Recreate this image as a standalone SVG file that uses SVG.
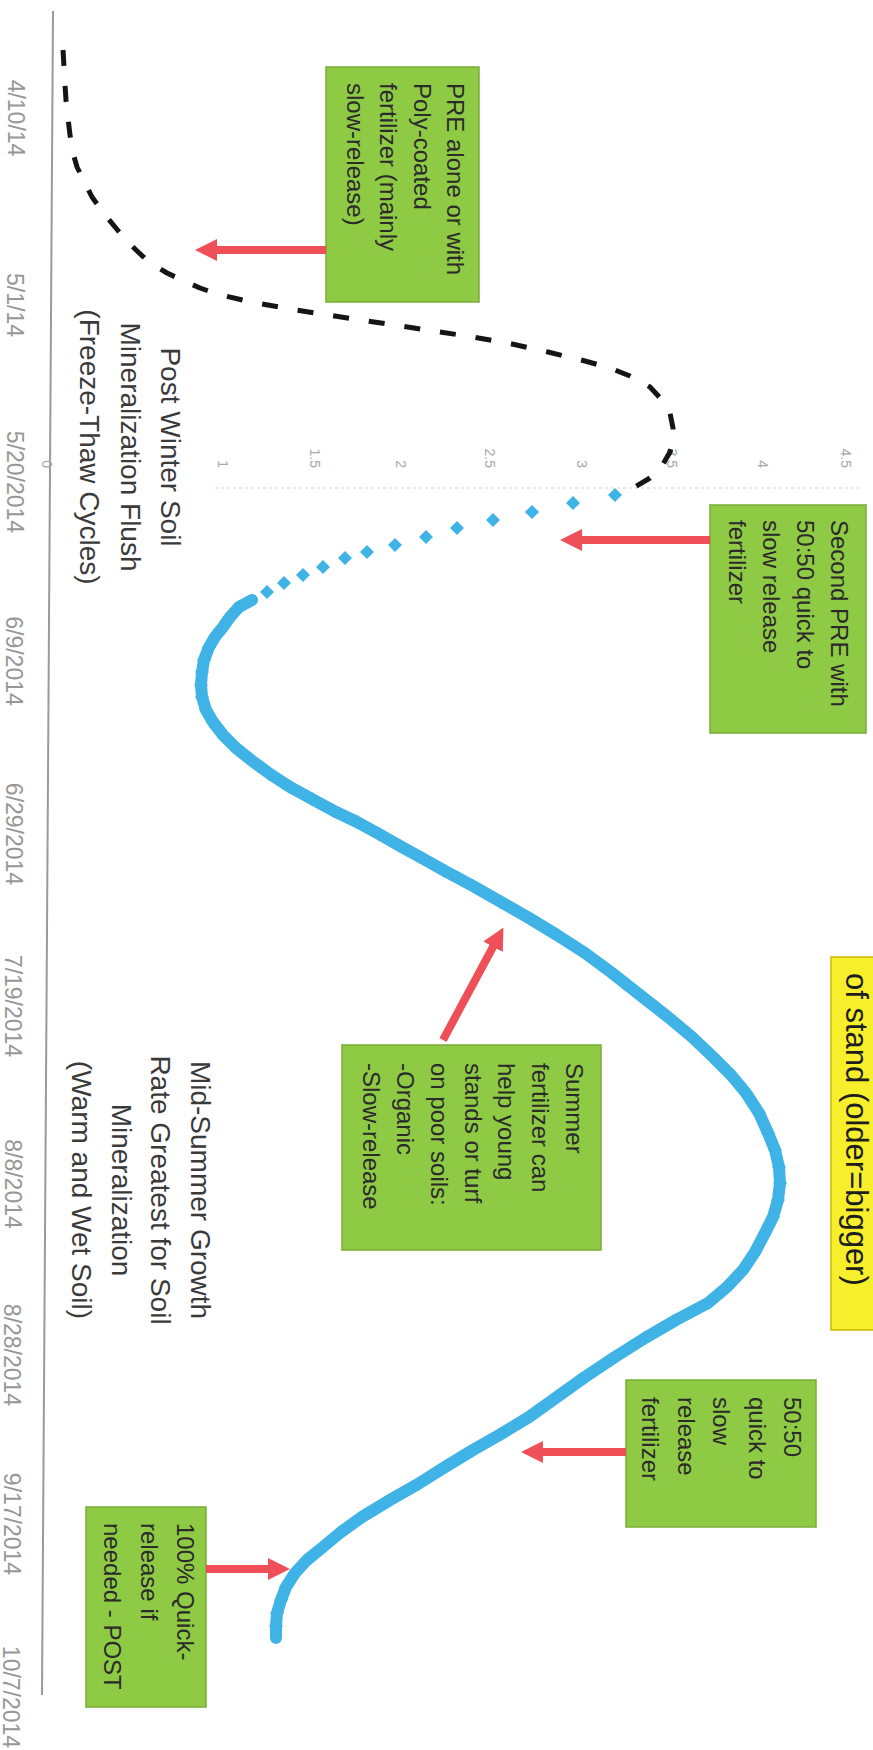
<svg xmlns="http://www.w3.org/2000/svg" width="873" height="1750" viewBox="0 0 873 1750">
<defs>
<style>
.axis{stroke:#9a9a9a;stroke-width:2;fill:none}
.grid{stroke:#e2e2e2;stroke-width:1.5;fill:none;stroke-dasharray:3 3}
.date{font-family:"Liberation Sans",Arial,sans-serif;font-size:23px;fill:#979797;text-anchor:middle}
.val{font-family:"Liberation Sans",Arial,sans-serif;font-size:14px;fill:#a8a8a8;text-anchor:end}
.box{fill:#8fca45;stroke:#78ad35;stroke-width:1.5}
.ybox{fill:#f8ef2c;stroke:#c9b900;stroke-width:1.5}
.bt{font-family:"Liberation Sans",Arial,sans-serif;font-size:24px;fill:#2b2b2b}
.yt{font-family:"Liberation Sans",Arial,sans-serif;font-size:31px;fill:#1e1e1e}
.lbl{font-family:"Liberation Sans",Arial,sans-serif;font-size:28px;fill:#3a3a3a;text-anchor:middle}
.arrow{stroke:#ef5058;stroke-width:8;fill:none;marker-end:url(#ah)}
.dash{stroke:#151515;stroke-width:5;fill:none;stroke-dasharray:16 20;stroke-linejoin:round}
.blue{stroke:#3fb3e6;stroke-width:12;fill:none;stroke-linejoin:round;stroke-linecap:round;marker-mid:url(#dmk)}
.dm{fill:#3fb3e6}
</style>
<marker id="ah" markerUnits="userSpaceOnUse" markerWidth="22" markerHeight="22" viewBox="0 0 22 22" refX="2" refY="11" orient="auto"><path d="M0,0 L22,11 L0,22 Z" fill="#ef5058"/></marker>
<marker id="dmk" markerUnits="userSpaceOnUse" markerWidth="14" markerHeight="14" viewBox="-7 -7 14 14" refX="0" refY="0" orient="0"><path d="M0,-7 L7,0 L0,7 L-7,0 Z" fill="#3fb3e6"/></marker>
<path id="dm" d="M0,-7 L7,0 L0,7 L-7,0 Z"/>
</defs>
<rect width="873" height="1750" fill="#ffffff"/>

<g id="date-axis">
<line class="axis" x1="53" y1="11" x2="42" y2="1695"/>
<text class="date" transform="translate(8,118) rotate(90)">4/10/14</text>
<text class="date" transform="translate(7.4,305) rotate(90)">5/1/14</text>
<text class="date" transform="translate(6.9,482) rotate(90)">5/20/2014</text>
<text class="date" transform="translate(6.3,661) rotate(90)">6/9/2014</text>
<text class="date" transform="translate(5.8,834) rotate(90)">6/29/2014</text>
<text class="date" transform="translate(5.2,1006) rotate(90)">7/19/2014</text>
<text class="date" transform="translate(4.7,1184) rotate(90)">8/8/2014</text>
<text class="date" transform="translate(4.1,1355) rotate(90)">8/28/2014</text>
<text class="date" transform="translate(3.6,1524) rotate(90)">9/17/2014</text>
<text class="date" transform="translate(3,1697) rotate(90)">10/7/2014</text>
</g>

<g id="value-axis">
<line class="grid" x1="215" y1="488" x2="860" y2="488"/>
<text class="val" transform="translate(42,468) rotate(90)">0</text>
<text class="val" transform="translate(218,468) rotate(90)">1</text>
<text class="val" transform="translate(310,468) rotate(90)">1.5</text>
<text class="val" transform="translate(396,468) rotate(90)">2</text>
<text class="val" transform="translate(485,468) rotate(90)">2.5</text>
<text class="val" transform="translate(577,468) rotate(90)">3</text>
<text class="val" transform="translate(667,468) rotate(90)">3.5</text>
<text class="val" transform="translate(758,468) rotate(90)">4</text>
<text class="val" transform="translate(841,468) rotate(90)">4.5</text>
</g>

<g id="series-dashed">
<polyline class="dash" points="63,50 64,67 65,85 66,100 68,118 70,135 73,153 77,167 85,183 92,197 105,215 120,233 135,249 150,263 167,273 184,281 200,288 217,294 251,302 290,309 328,315 367,321 401,326 440,332 473,337 512,344 548,352 585,361 610,368 630,376 650,387 662,400 670,413 673,428 673,440 670,452 662,466 650,478 635,487 618,493"/>
</g>

<g id="series-blue">
<use class="dm" href="#dm" x="615" y="495"/>
<use class="dm" href="#dm" x="573" y="503"/>
<use class="dm" href="#dm" x="532" y="512"/>
<use class="dm" href="#dm" x="493" y="520"/>
<use class="dm" href="#dm" x="457" y="528"/>
<use class="dm" href="#dm" x="426" y="537"/>
<use class="dm" href="#dm" x="395" y="545"/>
<use class="dm" href="#dm" x="367" y="552"/>
<use class="dm" href="#dm" x="345" y="558"/>
<use class="dm" href="#dm" x="323" y="567"/>
<use class="dm" href="#dm" x="303" y="575"/>
<use class="dm" href="#dm" x="284" y="583"/>
<use class="dm" href="#dm" x="267" y="592"/>
<polyline class="blue" points="252,600 239,607 230,617 223,627 215,637 209,647 204,660 202,672 201,685 202,697 206,710 213,722 223,735 236,748 251,760 270,774 290,787 312,799 334,811 357,822 379,834 400,846 420,857 445,871 473,886 501,902 529,918 557,935 585,953 612,973 640,995 668,1017 692,1037 713,1057 731,1075 746,1093 759,1113 768,1133 775,1150 779,1167 780,1183 778,1200 773,1217 765,1233 755,1252 743,1270 727,1287 708,1303 676,1320 645,1338 615,1357 585,1377 557,1397 529,1417 501,1434 473,1450 445,1467 418,1484 390,1500 362,1517 341,1532 323,1547 307,1560 295,1573 286,1587 281,1600 277,1613 276,1626 276,1638"/>
</g>

<g id="label-post-winter">
<text class="lbl" transform="translate(161,447) rotate(90)"><tspan x="0" y="0">Post Winter Soil</tspan><tspan x="0" dy="40.5">Mineralization Flush</tspan><tspan x="0" dy="40.5">(Freeze-Thaw Cycles)</tspan></text>
</g>

<g id="label-mid-summer">
<text class="lbl" transform="translate(191,1190) rotate(90)"><tspan x="0" y="0">Mid-Summer Growth</tspan><tspan x="0" dy="39.7">Rate Greatest for Soil</tspan><tspan x="0" dy="39.7">Mineralization</tspan><tspan x="0" dy="39.7">(Warm and Wet Soil)</tspan></text>
</g>

<g id="note-stand-age">
<rect class="ybox" x="831" y="957" width="60" height="373"/>
<text class="yt" transform="translate(846,973) rotate(90)">of stand (older=bigger)</text>
</g>

<g id="box-pre">
<rect class="box" x="326" y="67" width="153" height="235"/>
<text class="bt" transform="translate(447,83) rotate(90)"><tspan x="0" y="0">PRE alone or with</tspan><tspan x="0" dy="33.3">Poly-coated</tspan><tspan x="0" dy="33.3">fertilizer (mainly</tspan><tspan x="0" dy="33.3">slow-release)</tspan></text>
</g>

<g id="box-second-pre">
<rect class="box" x="710" y="505" width="156" height="228"/>
<text class="bt" transform="translate(831,520) rotate(90)"><tspan x="0" y="0">Second PRE with</tspan><tspan x="0" dy="34">50:50 quick to</tspan><tspan x="0" dy="34">slow release</tspan><tspan x="0" dy="34">fertilizer</tspan></text>
</g>

<g id="box-summer">
<rect class="box" x="342" y="1045" width="259" height="205"/>
<text class="bt" transform="translate(566,1063) rotate(90)"><tspan x="0" y="0">Summer</tspan><tspan x="0" dy="33.8">fertilizer can</tspan><tspan x="0" dy="33.8">help young</tspan><tspan x="0" dy="33.8">stands or turf</tspan><tspan x="0" dy="33.8">on poor soils:</tspan><tspan x="0" dy="33.8">-Organic</tspan><tspan x="0" dy="33.8">-Slow-release</tspan></text>
</g>

<g id="box-5050">
<rect class="box" x="626" y="1380" width="190" height="147"/>
<text class="bt" transform="translate(784,1397) rotate(90)"><tspan x="0" y="0">50:50</tspan><tspan x="0" dy="35.5">quick to</tspan><tspan x="0" dy="35.5">slow</tspan><tspan x="0" dy="35.5">release</tspan><tspan x="0" dy="35.5">fertilizer</tspan></text>
</g>

<g id="box-quick">
<rect class="box" x="86" y="1507" width="120" height="200"/>
<text class="bt" transform="translate(177,1523) rotate(90)"><tspan x="0" y="0">100% Quick-</tspan><tspan x="0" dy="36.5">release if</tspan><tspan x="0" dy="36.5">needed - POST</tspan></text>
</g>

<g id="connectors">
<line class="arrow" x1="326" y1="250" x2="215" y2="250"/>
<line class="arrow" x1="710" y1="540" x2="580" y2="540"/>
<line class="arrow" x1="443" y1="1040" x2="494" y2="945"/>
<line class="arrow" x1="626" y1="1452" x2="541" y2="1452"/>
<line class="arrow" x1="206" y1="1569" x2="270" y2="1569"/>
</g>
</svg>
